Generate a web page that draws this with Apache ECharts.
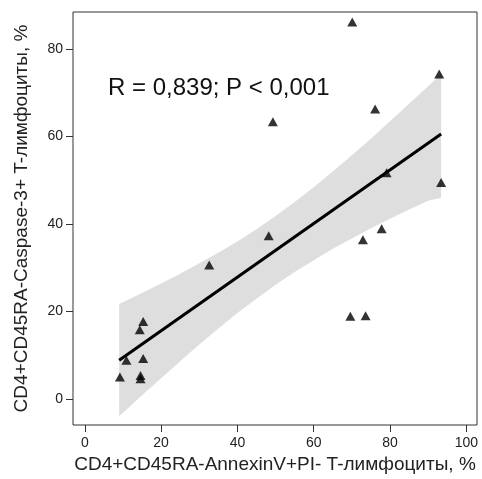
<!DOCTYPE html>
<html>
<head>
<meta charset="utf-8">
<script src="https://cdn.jsdelivr.net/npm/echarts@6/dist/echarts.min.js"></script>
<style>
  html, body { margin: 0; padding: 0; background: #fff; }
  #main { width: 482px; height: 479px; }
</style>
</head>
<body>
<div id="main"></div>
<script>
// точки (x - AnnexinV+PI-, y - Caspase-3+)
var pointsX = [70.1, 92.9, 76.1, 49.3, 79.1, 93.4, 48.2, 77.8, 72.9, 32.6, 69.6, 73.6, 15.3, 14.4, 10.9, 15.3, 9.2, 14.6, 14.6];
var pointsY = [86.2, 74.3, 66.3, 63.4, 51.7, 49.5, 37.3, 38.9, 36.4, 30.6, 18.9, 19.0, 17.7, 15.8, 8.8, 9.2, 5.0, 5.3, 4.6];

// линия регрессии
var fitX = [9.0, 93.4];
var fitY = [8.8, 60.6];

// доверительный интервал
var bandX     = [9, 15, 20, 25, 30, 35, 40, 45, 50, 55, 60, 65, 70, 75, 80, 85, 90, 93.4];
var bandUpper = [21.7, 24.2, 26.4, 28.6, 31.0, 33.4, 36.0, 38.8, 41.8, 45.0, 48.4, 52.0, 55.7, 59.5, 63.5, 67.5, 71.5, 74.3];
var bandLower = [-4.0, 0.8, 4.7, 8.6, 12.4, 16.1, 19.6, 22.9, 26.1, 29.0, 31.7, 34.3, 36.7, 39.0, 41.2, 43.3, 45.3, 46.0];

var xTicks = [0, 20, 40, 60, 80, 100];
var yTicks = [0, 20, 40, 60, 80];

var fontFam = 'Liberation Sans, Arial, sans-serif';
var chart = echarts.init(document.getElementById('main'), null, { renderer: 'canvas' });

var scatterData = [];
for (var i = 0; i < pointsX.length; i++) {
  scatterData.push([pointsX[i], pointsY[i]]);
}
var fitData = [];
for (var j = 0; j < fitX.length; j++) {
  fitData.push([fitX[j], fitY[j]]);
}

chart.setOption({
  animation: false,
  grid: {
    left: 73, top: 12, right: 5, bottom: 54,
    show: true,
    borderColor: '#333',
    borderWidth: 1,
    backgroundColor: '#fff'
  },
  xAxis: {
    type: 'value',
    min: -3.1, max: 102.8,
    splitLine: { show: false },
    axisLine: { show: false, onZero: false },
    axisTick: { show: true, length: 7, customValues: xTicks, lineStyle: { color: '#333' } },
    axisLabel: { customValues: xTicks, margin: 11, fontSize: 14, color: '#222', fontFamily: fontFam },
    name: 'CD4+CD45RA-AnnexinV+PI- T-лимфоциты, %',
    nameLocation: 'middle',
    nameGap: 26,
    nameTextStyle: { fontSize: 19, color: '#222', fontFamily: fontFam }
  },
  yAxis: {
    type: 'value',
    min: -6.0, max: 88.5,
    splitLine: { show: false },
    axisLine: { show: false, onZero: false },
    axisTick: { show: true, length: 7, customValues: yTicks, lineStyle: { color: '#333' } },
    axisLabel: { customValues: yTicks, margin: 10, fontSize: 14, color: '#222', fontFamily: fontFam },
    name: 'CD4+CD45RA-Caspase-3+ T-лимфоциты, %',
    nameLocation: 'middle',
    nameGap: 42,
    nameTextStyle: { fontSize: 19, color: '#222', fontFamily: fontFam }
  },
  graphic: [{
    type: 'text',
    left: 108, top: 76,
    style: { text: 'R = 0,839; P < 0,001', fontSize: 24, fill: '#111', fontFamily: fontFam }
  }],
  series: [
    {
      // полоса доверительного интервала
      type: 'custom',
      silent: true,
      data: [[bandX[0], bandUpper[0]]],
      renderItem: function (params, api) {
        var pts = [];
        for (var k = 0; k < bandX.length; k++) pts.push(api.coord([bandX[k], bandUpper[k]]));
        for (var m = bandX.length - 1; m >= 0; m--) pts.push(api.coord([bandX[m], bandLower[m]]));
        return {
          type: 'polygon',
          shape: { points: pts },
          style: { fill: '#dedede', stroke: null }
        };
      },
      z: 1
    },
    {
      type: 'line',
      data: fitData,
      symbol: 'none',
      lineStyle: { color: '#000', width: 3 },
      z: 2
    },
    {
      type: 'scatter',
      data: scatterData,
      symbol: 'triangle',
      symbolSize: [10, 9],
      itemStyle: { color: '#000' },
      z: 3
    }
  ]
});
</script>
</body>
</html>
